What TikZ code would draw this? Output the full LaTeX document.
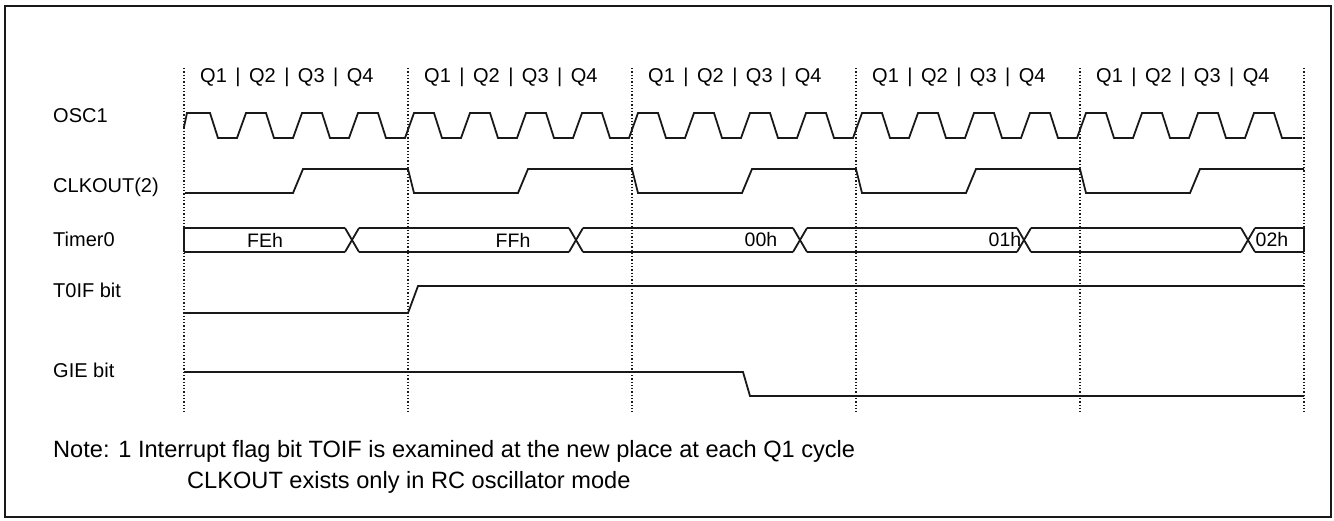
\documentclass[tikz,border=0pt]{standalone}
\usepackage{fontspec}
\setmainfont{Liberation Sans}
\usepackage{tikz}
\usetikzlibrary{
    positioning,
    calc
}
\definecolor{waveInk}{RGB}{25,25,25}
\newcommand{\qgap}{\spaceskip 8.5pt\relax}
\tikzset{
  wave/.style   = {draw=waveInk, line width=1.8pt, line join=miter},
  qline/.style  = {draw=waveInk, dotted, line width=1.3pt},
  sname/.style  = {anchor=west, inner sep=0pt,
                   font=\fontsize{20}{22}\selectfont},
  busval/.style = {inner sep=0pt, font=\fontsize{19.5}{21}\selectfont},
  qtext/.style  = {anchor=base west, inner sep=0pt,
                   font=\fontsize{20}{22}\selectfont},
  note/.style   = {anchor=base west, inner sep=0pt,
                   font=\fontsize{23.6}{26}\selectfont}
}

\begin{document}
\begin{tikzpicture}[x=1pt, y=-1pt]
    \useasboundingbox (0,0) rectangle (1334,520);
    \draw[draw=waveInk, line width=2pt] (5,6) rectangle (1331,517);

    \foreach \c in {0,...,5}
        \draw[qline] ({184+224*\c},68) -- ({184+224*\c},412);
    \foreach \c in {0,...,4}
        \node[qtext] (q\c) at ({200+224*\c},82) {\qgap Q1 | Q2 | Q3 | Q4};

    \node[sname] (osc) at (53,116) {OSC1};
    \node[sname] (clk) at (53,187) {CLKOUT(2)};
    \node[sname] (tmr) at (53,239) {Timer0};
    \node[sname] (tif) at (53,290) {T0IF bit};
    \node[sname] (gie) at (53,370) {GIE bit};

    \draw[wave] (184,127) -- (187,113)
        \foreach \k in {0,...,18}{
            -- ({184+56*\k+26},113) -- ({184+56*\k+34},138)
            -- ({184+56*\k+53},138) -- ({184+56*\k+62},113)}
        -- (1274,113) -- (1282,138) -- (1302,138);

    \draw[wave] (185,193) -- (293,193) -- (303,169) -- (408,169)
        \foreach \c in {1,...,4}{
            -- ({184+224*\c+6},193) -- ({184+224*\c+110},193)
            -- ({184+224*\c+120},169) -- ({184+224*\c+224},169)};

    \draw[wave] (184,228) -- (184,252) (1304,228) -- (1304,252);
    \draw[wave] (184,228) -- (345,228) (184,252) -- (345,252);
    \foreach \c in {0,...,4}
        \draw[wave] ({184+224*\c+161},228) -- ({184+224*\c+175},252)
                    ({184+224*\c+161},252) -- ({184+224*\c+175},228);
    \foreach \c in {1,...,4}
        \draw[wave] ({184+224*\c-49},228) -- ({184+224*\c+161},228)
                    ({184+224*\c-49},252) -- ({184+224*\c+161},252);
    \draw[wave] (1255,228) -- (1304,228) (1255,252) -- (1304,252);

    \node[busval] (fe) at (265,240) {FEh};
    \node[busval] (ff) at (513,240) {FFh};
    \node[busval] (v00) at (761,240) {00h};
    \node[busval] (v01) at (1005,240) {01h};
    \node[busval] (v02) at (1272,240) {02h};

    \draw[wave] (184,313) -- (408,313) -- (418,286) -- (1304,286);
    \draw[wave] (184,372) -- (743,372) -- (750,396) -- (1304,396);

    \node[note] (n1) at (53,457)
        {Note: 1 Interrupt flag bit TOIF is examined at the new place at each Q1 cycle};
    \node[note] (n2) at (187,488) {CLKOUT exists only in RC oscillator mode};
\end{tikzpicture}
\end{document}
